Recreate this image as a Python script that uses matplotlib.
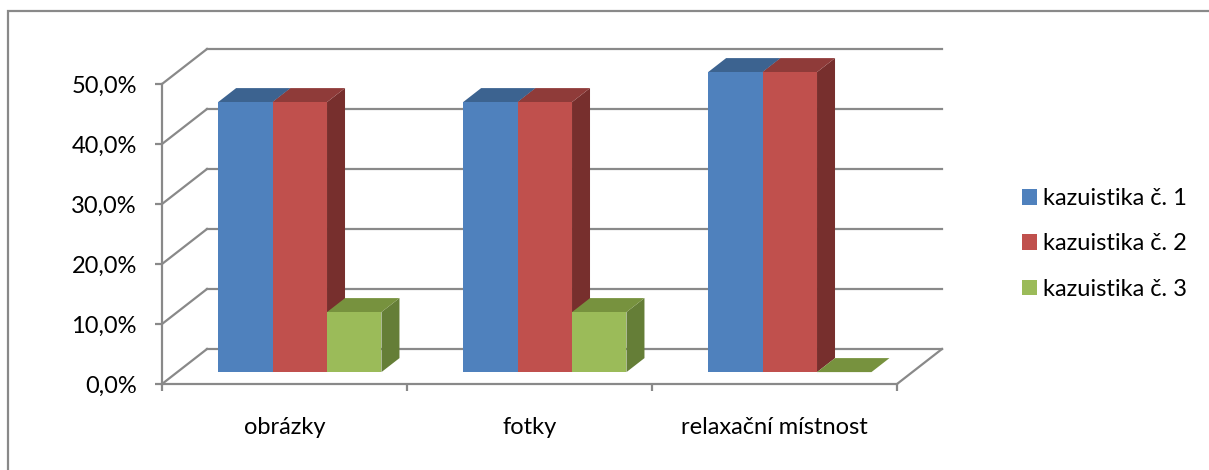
import matplotlib.pyplot as plt
from matplotlib.patches import Polygon, Patch, Rectangle

plt.rcParams['font.family'] = ['Lato', 'DejaVu Sans']

categories = ['obrázky', 'fotky', 'relaxační místnost']
series_names = ['kazuistika č. 1', 'kazuistika č. 2', 'kazuistika č. 3']
kaz1 = [45.0, 45.0, 50.0]
kaz2 = [45.0, 45.0, 50.0]
kaz3 = [10.0, 10.0, 0.0]
yticks = [0, 10, 20, 30, 40, 50]

# colours: front, top, side
front_cols = ['#4f81bd', '#c0504d', '#9bbb59']
top_cols = ['#3c6390', '#8f3b39', '#77923e']
side_cols = ['#3a5f8c', '#772f2d', '#657e37']
grid_col = '#898989'
fs = 17

W, H = 1209, 470
fig = plt.figure(figsize=(W / 100, H / 100), dpi=100)

# front plane: x 162..897 px, 0% at y=384, 50% at y=84
ax = fig.add_axes([162 / W, (H - 384) / H, 735 / W, 300 / H])
ax.set_xlim(0, 3)
ax.set_ylim(0, 50)

# depth offset of the whole chart (data units)
dx = 45 / 245
dy = 35 / 6.0
f0, f1 = 0.34, 0.74
w = 1 / 4.5
gap = 0.75 * w

# walls and floor
for v in yticks:
    ax.plot([dx, 3 + dx], [v + dy, v + dy], color=grid_col, lw=1.6, zorder=1, clip_on=False)
    ax.plot([0, dx], [v, v + dy], color=grid_col, lw=1.6, zorder=1, clip_on=False)
ax.plot([3, 3 + dx], [0, dy], color=grid_col, lw=1.6, zorder=1, clip_on=False)

series = [kaz1, kaz2, kaz3]
z = 3
for i in range(len(categories)):
    for j, vals in enumerate(series):
        v = vals[i]
        x0 = i + gap + j * w + f0 * dx
        b = f0 * dy
        ddx = (f1 - f0) * dx
        ddy = (f1 - f0) * dy
        side = Polygon([(x0 + w, b), (x0 + w, b + v), (x0 + w + ddx, b + v + ddy), (x0 + w + ddx, b + ddy)],
                       closed=True, facecolor=side_cols[j], edgecolor='none', zorder=z, clip_on=False)
        ax.add_patch(side)
        top = Polygon([(x0, b + v), (x0 + w, b + v), (x0 + w + ddx, b + v + ddy), (x0 + ddx, b + v + ddy)],
                      closed=True, facecolor=top_cols[j], edgecolor='none', zorder=z + 1, clip_on=False)
        ax.add_patch(top)
        ax.bar(x0, v, width=w, bottom=b, align='edge', color=front_cols[j],
               edgecolor='none', zorder=z + 2, clip_on=False)
        z += 3

for s in ['top', 'right']:
    ax.spines[s].set_visible(False)
for s in ['left', 'bottom']:
    ax.spines[s].set_color(grid_col)
    ax.spines[s].set_linewidth(1.6)
    ax.spines[s].set_zorder(2)
ax.patch.set_visible(False)

ax.set_yticks(yticks)
ax.set_yticklabels([f'{v:.1f}%'.replace('.', ',') for v in yticks])
ax.tick_params(axis='y', direction='out', length=5, width=1.6, color=grid_col,
               pad=13, labelsize=fs, labelcolor='black')

ax.set_xticks([0, 1, 2, 3])
ax.set_xticklabels([])
ax.set_xticks([0.5, 1.5, 2.5], minor=True)
ax.set_xticklabels(categories, minor=True)
ax.tick_params(axis='x', which='major', direction='out', length=5, width=1.6, color=grid_col)
ax.tick_params(axis='x', which='minor', length=0, pad=24, labelsize=fs, labelcolor='black')

handles = [Patch(facecolor=c, edgecolor='none') for c in front_cols]
fig.legend(handles, series_names, loc='center left', bbox_to_anchor=(1022 / W, 1 - 244 / H),
           frameon=False, fontsize=fs, handlelength=0.64, handleheight=0.64,
           handletextpad=0.25, labelspacing=1.03, borderaxespad=0, borderpad=0)

fig.patches.append(Rectangle((8 / W, -0.05), 1.1, 1 - 11 / H + 0.05, transform=fig.transFigure,
                             fill=False, edgecolor=grid_col, lw=1.6))

fig.savefig('out.png', dpi=100)
